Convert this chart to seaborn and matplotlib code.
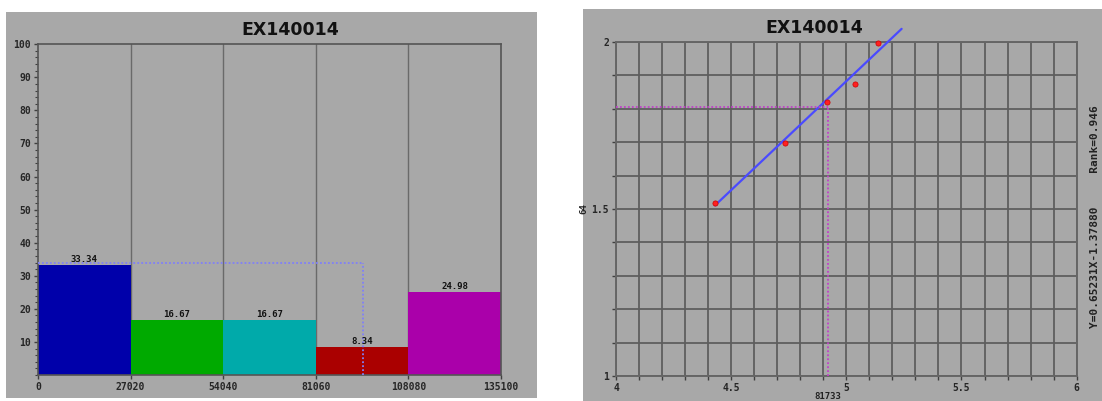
import numpy as np
import pandas as pd
import matplotlib
matplotlib.use("Agg")
import matplotlib.pyplot as plt
from matplotlib.ticker import FixedLocator, FuncFormatter, MultipleLocator
import seaborn as sns

# ---- histogram data ----
title = "EX140014"
bin_edges = [0, 27020, 54040, 81060, 108080, 135100]
bin_percent = [33.34, 16.67, 16.67, 8.34, 24.98]
bin_colors = ["#0000aa", "#00aa00", "#00aaaa", "#aa0000", "#aa00aa"]
hist_cursor = (95000, 34.0)

# ---- calibration data ----
cal_x = [4.43, 4.733, 4.915, 5.037, 5.137]
cal_y = [1.518, 1.698, 1.82, 1.874, 1.997]
fit_slope = 0.65231
fit_intercept = -1.37880
fit_range = [4.43, 5.24]
fit_rank = 0.946
cal_cursor = (4.92, 1.805)
cal_cursor_label = "81733"
cal_ylabel = "64"

sns.set_theme(style="white")
plt.rcParams["font.family"] = ["DejaVu Sans Mono", "DejaVu Sans"]
plt.rcParams["font.weight"] = "bold"

GRAY = "#a8a8a8"
GRID = "#5e5e5e"

fig = plt.figure(figsize=(11.02, 4.01), dpi=100, facecolor="white")

# gray panel backgrounds
fig.patches.append(plt.Rectangle((0.0054, 0.0075), 0.4819, 0.9626, transform=fig.transFigure,
                                 facecolor=GRAY, edgecolor="none", zorder=-10))
fig.patches.append(plt.Rectangle((0.529, 0.0), 0.471, 0.978, transform=fig.transFigure,
                                 facecolor=GRAY, edgecolor="none", zorder=-10))

# ---------- left: percentage histogram ----------
ax1 = fig.add_axes([0.0345, 0.0648, 0.420, 0.825])
ax1.set_facecolor(GRAY)
centers = [(a + b) / 2 for a, b in zip(bin_edges[:-1], bin_edges[1:])]
hist_df = pd.DataFrame({"center": centers, "pct": bin_percent,
                        "bin": [str(i) for i in range(len(centers))]})
sns.histplot(data=hist_df, x="center", weights="pct", bins=bin_edges, hue="bin",
             palette=bin_colors, multiple="layer", alpha=1.0, linewidth=0,
             legend=False, ax=ax1, zorder=2)
for c, v in zip(centers, bin_percent):
    ax1.text(c, v + 0.3, f"{v:.2f}", ha="center", va="bottom", fontsize=6.5,
             fontweight="bold", color="#111111", zorder=5)
for e in bin_edges[1:-1]:
    ax1.axvline(e, color="#6a6a6a", lw=1.0, zorder=1)
ax1.plot([0, hist_cursor[0]], [hist_cursor[1]] * 2, ls=(0, (1, 1.2)), color="#8080f8", lw=1.3, zorder=4)
ax1.plot([hist_cursor[0]] * 2, [0, hist_cursor[1]], ls=(0, (1, 1.2)), color="#8080f8", lw=1.3, zorder=4)
ax1.set_xlim(bin_edges[0], bin_edges[-1])
ax1.set_ylim(0, 100)
ax1.set_xticks(bin_edges)
ax1.set_xticklabels([str(e) for e in bin_edges])
ax1.yaxis.set_major_locator(FixedLocator(list(range(10, 101, 10))))
ax1.yaxis.set_minor_locator(MultipleLocator(2))
ax1.set_xlabel("")
ax1.set_ylabel("")
ax1.tick_params(axis="both", which="major", labelsize=7, length=3, width=1, color="#404040",
                direction="out", pad=2)
ax1.tick_params(axis="y", which="minor", length=2, width=0.8, color="#404040", direction="out", left=True)
ax1.tick_params(axis="x", which="major", bottom=True)
ax1.tick_params(axis="y", which="major", left=True)
for lbl in ax1.get_xticklabels() + ax1.get_yticklabels():
    lbl.set_fontweight("bold")
for s in ax1.spines.values():
    s.set_color("#555555")
    s.set_linewidth(1.2)
fig.text(0.263, 0.925, title, ha="center", va="center", fontsize=12.5, fontweight="bold",
         family=["DejaVu Sans", "DejaVu Sans Mono"], color="#111111")

# ---------- right: calibration plot ----------
ax2 = fig.add_axes([0.559, 0.0623, 0.418, 0.833])
ax2.set_facecolor(GRAY)
ax2.set_xlim(4, 6)
ax2.set_ylim(1, 2)
ax2.xaxis.set_major_locator(MultipleLocator(0.1))
ax2.yaxis.set_major_locator(MultipleLocator(0.1))


def half_step_label(v, _pos):
    r = round(v * 2) / 2
    if abs(v - r) < 1e-6:
        return f"{r:g}"
    return ""


ax2.xaxis.set_major_formatter(FuncFormatter(half_step_label))
ax2.yaxis.set_major_formatter(FuncFormatter(half_step_label))
ax2.grid(True, color=GRID, lw=1.3, zorder=0)
ax2.set_axisbelow(True)

fit_x = np.array(fit_range)
fit_df = pd.DataFrame({"x": fit_x, "y": fit_slope * fit_x + fit_intercept})
sns.lineplot(data=fit_df, x="x", y="y", color="#4a4aff", lw=1.6, ax=ax2, zorder=3)
ax2.lines[-1].set_clip_on(False)
sns.scatterplot(x=cal_x, y=cal_y, color="#ff2020", s=14, edgecolor="#cc0000", linewidth=0.5,
                ax=ax2, zorder=4, clip_on=False)
ax2.plot([4, cal_cursor[0]], [cal_cursor[1]] * 2, ls=(0, (1, 1.2)), color="#c040c8", lw=1.3, zorder=5)
ax2.plot([cal_cursor[0]] * 2, [1, cal_cursor[1]], ls=(0, (1, 1.2)), color="#c040c8", lw=1.3, zorder=5)

ax2.set_xlabel("")
ax2.set_ylabel("")
ax2.tick_params(axis="both", which="major", labelsize=7, length=3, width=1, color="#404040",
                direction="out", pad=2, bottom=True, left=True)
for lbl in ax2.get_xticklabels() + ax2.get_yticklabels():
    lbl.set_fontweight("bold")
for s in ax2.spines.values():
    s.set_color("#666666")
    s.set_linewidth(1.4)

fig.text(0.739, 0.93, title, ha="center", va="center", fontsize=12.5, fontweight="bold",
         family=["DejaVu Sans", "DejaVu Sans Mono"], color="#111111")
ax2.text(cal_cursor[0], -0.062, cal_cursor_label, transform=ax2.get_xaxis_transform(),
         ha="center", va="center", fontsize=6.5, fontweight="bold", color="#222222")
ax2.text(-0.07, 0.5, cal_ylabel, transform=ax2.transAxes, rotation=90, ha="center",
         va="center", fontsize=6.5, fontweight="bold", color="#222222")
sign = "-" if fit_intercept < 0 else "+"
fig.text(0.994, 0.46, f"Y={fit_slope:.5f}X{sign}{abs(fit_intercept):.5f}     Rank={fit_rank:.3f}",
         rotation=90, ha="center", va="center", fontsize=8, fontweight="bold", color="#222222")

fig.savefig("out.png", dpi=100, facecolor="white")
